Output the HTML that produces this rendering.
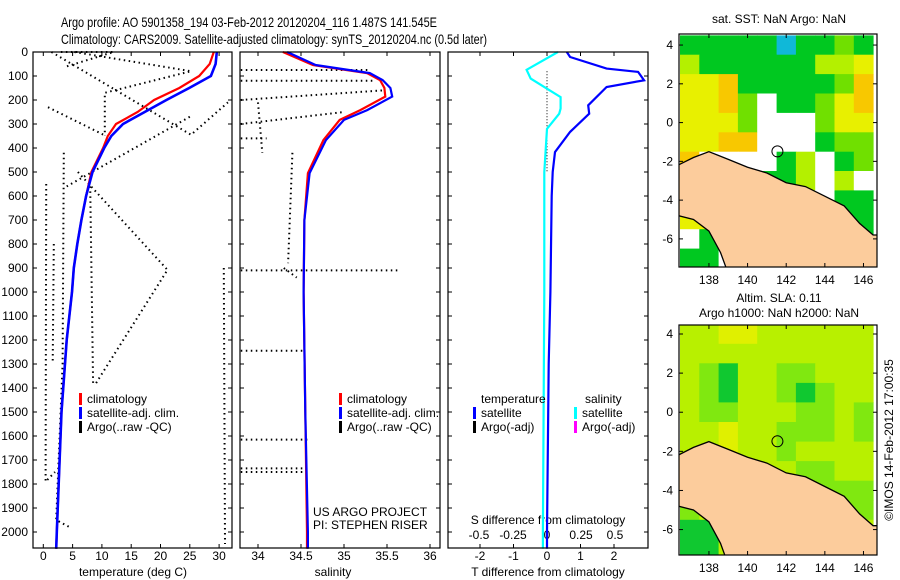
<!DOCTYPE html>
<html><head><meta charset="utf-8"><style>
body{margin:0;background:#fff}
svg{display:block;font-family:"Liberation Sans",sans-serif}
text{fill:#000}
</style></head><body>
<svg id="s" width="900" height="580" viewBox="0 0 900 580" xmlns="http://www.w3.org/2000/svg">
<rect width="900" height="580" fill="#fff"/>
<text x="61" y="27" font-size="14" textLength="376" lengthAdjust="spacingAndGlyphs">Argo profile: AO 5901358_194 03-Feb-2012 20120204_116 1.487S 141.545E</text>
<text x="61" y="44" font-size="14" textLength="426" lengthAdjust="spacingAndGlyphs">Climatology: CARS2009. Satellite-adjusted climatology: synTS_20120204.nc (0.5d later)</text>
<g id="g"></g>
<text transform="translate(893,440) rotate(-90)" font-size="12" text-anchor="middle">©IMOS 14-Feb-2012 17:00:35</text>
</svg>
<script>
// ---- data ----
const depths = [0,50,100,150,200,250,300,350,400,500,600,700,800,900,1000,1200,1500,2000,2070];
const tempClim = [29.1,28.4,26.6,23.2,18.9,16.1,12.4,11.0,10.2,8.2,7.3,6.5,5.8,5.2,4.9,4.0,3.1,2.3,2.2];
const tempSat  = [29.6,29.4,28.6,24.9,21.0,17.3,13.6,11.6,10.4,8.4,7.3,6.5,5.8,5.2,4.9,4.0,3.1,2.3,2.2];
const salDepths = [0,54,88,117,150,186,242,283,367,505,700,1000,1500,2000,2070];
const salClim = [34.29,34.64,35.27,35.42,35.47,35.48,35.19,34.95,34.76,34.58,34.54,34.53,34.55,34.57,34.57];
const salSat  = [34.34,34.67,35.30,35.45,35.54,35.56,35.27,35.00,34.79,34.60,34.54,34.53,34.55,34.58,34.58];
const dTDepths = [0,21,69,83,118,146,222,257,333,417,500,600,1000,1300,2000,2070];
const dTSat = [0.59,0.69,1.78,2.72,2.9,1.78,1.23,1.26,0.69,0.24,0.17,0.14,0.1,0.05,0.0,0.0];
const dSDepths = [0,74,111,153,188,236,257,320,500,1000,2000,2070];
const dSSat = [0.08,-0.15,-0.12,0.0,0.1,0.1,0.09,0.0,-0.02,-0.02,-0.03,-0.03];
const argoT = [
 [[5.3,0],[25.2,80],[10.5,170],[10.5,350]],
 [[1.4,0],[25.2,345],[31.5,210]],
 [[0.8,230],[10.7,350]],
 [[25,270],[4,560]],
 [[5.9,500],[21.2,908],[9,1380]],
 [[8,560],[8.5,1380]],
 [[3.5,420],[3.3,1300],[2.2,1950],[4.5,1980]],
 [[0.5,550],[0.4,1790],[2,1750]],
 [[1.8,800],[1.6,1300]],
 [[30.8,900],[31,2050]],
 [[3,0],[12,0],[4,60]]
];
const argoS = [
 [[33.8,75],[35.3,75]],[[33.8,120],[35.35,120]],[[33.8,200],[35.45,160]],[[33.8,300],[35.0,250]],
 [[33.8,360],[34.1,360]],[[34.0,210],[34.05,420]],[[34.4,420],[34.35,880]],[[34.3,900],[34.45,940]],
 [[33.8,910],[35.65,910]],[[33.8,1245],[34.55,1245]],[[33.8,1615],[34.6,1615]],[[33.8,1735],[34.6,1735]],[[33.8,1750],[34.6,1750]]
];
const lonTicks=[138,140,142,144,146];
const latTicks=[4,2,0,-2,-4,-6];
const sstRows=["GGGGGbGGgG","yGGGGGGyyY","YYOGGGGGgO","YYOgwGGgYO","YYYgwwwgYY","YYOOwwwGgg","OwwwwGywGg","wwwyGGywyw","wwwwwwwwGG","YYwwwwwwGG","wGwwwwwwwG","GGwwwwwwww"];
const slaRows=["yyYYyyyyyy","yyyyyyyyyy","ygGyyggyyy","ygGyygGgyy","yggyyyggyg","yyYyygggyg","yyYyygyyyy","yyyyyyggyy","yyyyyyyggg","gyyyyyyggg","GGyyyyyyyy","GGyyyyyyyy"];
const coast=[[136.4,-2.2],[137.2,-1.8],[138,-1.5],[138.5,-1.7],[139,-1.9],[140,-2.3],[141,-2.6],[142,-3.1],[143,-3.3],[144,-3.8],[145,-4.3],[145.8,-5.2],[146.5,-5.8],[146.8,-5.8],[146.8,-7.8],[139,-7.8],[138.6,-6.7],[138,-5.6],[137.2,-5.0],[136.4,-4.8]];

// ---- drawing ----
const NS="http://www.w3.org/2000/svg";
const G=document.getElementById('g');
function el(tag,attrs,parent){const e=document.createElementNS(NS,tag);for(const k in attrs)e.setAttribute(k,attrs[k]);(parent||G).appendChild(e);return e;}
function txt(x,y,s,size,anchor,name){const t=el('text',{x:x,y:y,'font-size':size,'text-anchor':anchor||'start'});t.textContent=s;

return t;}
const yD=d=>52+d*0.24;
const PT=548;
function panel(x0,x1,name){const r=el('rect',{x:x0,y:52,width:x1-x0,height:PT-52,fill:'none',stroke:'#000','stroke-width':1.2});

}
const xT=t=>43.3+t*5.86, xS=s=>258+(s-34)*86, xdT=v=>547+v*33.5, xdS=v=>547+v*136;
function line(pts,fx,color,w,dash,name){const p=el('polyline',{points:pts.map(q=>fx(q[0]).toFixed(1)+','+yD(q[1]).toFixed(1)).join(' '),fill:'none',stroke:color,'stroke-width':w});
if(dash)p.setAttribute('stroke-dasharray',dash);

}
function zip(a,b){return a.map((v,i)=>[v,b[i]]);}
for(let d=0;d<=2000;d+=100){const y=yD(d);
 txt(28,y+4,String(d),12,'end','depth-tick-label');
 [[33,232],[240,440],[448,648]].forEach(([a,b])=>{el('line',{x1:a,y1:y,x2:a+4,y2:y,stroke:'#000'});el('line',{x1:b-4,y1:y,x2:b,y2:y,stroke:'#000'});});
}
[0,5,10,15,20,25,30].forEach(t=>{txt(xT(t),560,String(t),12,'middle','temp-tick-label');el('line',{x1:xT(t),y1:PT,x2:xT(t),y2:PT-4,stroke:'#000'});el('line',{x1:xT(t),y1:52,x2:xT(t),y2:56,stroke:'#000'});});
txt(133,576,'temperature (deg C)',12,'middle','temp-axis-title');
argoT.forEach(s=>line(s,xT,'#000',2,'1.5 3.5','argo-temp-raw'));
line(zip(tempClim,depths),xT,'#f00',2.2,null,'temp-climatology-line');
line(zip(tempSat,depths),xT,'#00f',2.6,null,'temp-satellite-line');
[34,34.5,35,35.5,36].forEach(s=>{txt(xS(s),560,String(s),12,'middle','salinity-tick-label');el('line',{x1:xS(s),y1:PT,x2:xS(s),y2:PT-4,stroke:'#000'});el('line',{x1:xS(s),y1:52,x2:xS(s),y2:56,stroke:'#000'});});
txt(333,576,'salinity',12,'middle','salinity-axis-title');
argoS.forEach(s=>line(s,xS,'#000',2,'1.5 3.5','argo-salinity-raw'));
line(zip(salClim,salDepths),xS,'#f00',2.2,null,'salinity-climatology-line');
line(zip(salSat,salDepths),xS,'#00f',2.2,null,'salinity-satellite-line');
[-2,-1,0,1,2].forEach(v=>{txt(xdT(v),560,String(v),12,'middle','tdiff-tick-label');el('line',{x1:xdT(v),y1:PT,x2:xdT(v),y2:PT-4,stroke:'#000'});el('line',{x1:xdT(v),y1:52,x2:xdT(v),y2:56,stroke:'#000'});});
[[-0.5,'-0.5'],[-0.25,'-0.25'],[0,'0'],[0.25,'0.25'],[0.5,'0.5']].forEach(([v,l])=>txt(xdS(v),539,l,12,'middle','sdiff-tick-label'));
txt(548,524,'S difference from climatology',12,'middle','sdiff-axis-title');
txt(548,576,'T difference from climatology',12,'middle','tdiff-axis-title');
line([[0,80],[0,500]],xdT,'#000',1,'1 2','zero-reference');
line(zip(dTSat,dTDepths),xdT,'#00f',2.2,null,'tdiff-satellite-line');
line(zip(dSSat,dSDepths),xdS,'#0ff',2.2,null,'sdiff-satellite-line');
panel(33,232,'temperature-panel');panel(240,440,'salinity-panel');panel(448,648,'difference-panel');
function leg(x,y,c,s,name){el('rect',{x:x,y:y-10,width:3,height:12,fill:c});txt(x+8,y,s,12,'start',name);}
leg(79,403,'#f00','climatology','legend-climatology');leg(79,417,'#00f','satellite-adj. clim.','legend-satellite');leg(79,431,'#000','Argo(..raw -QC)','legend-argo');
leg(339,403,'#f00','climatology','legend-climatology-s');leg(339,417,'#00f','satellite-adj. clim.','legend-satellite-s');leg(339,431,'#000','Argo(..raw -QC)','legend-argo-s');
txt(481,403,'temperature',12,'start','legend-temperature-header');txt(585,403,'salinity',12,'start','legend-salinity-header');
leg(473,417,'#00f','satellite','legend-t-satellite');leg(473,431,'#000','Argo(-adj)','legend-t-argo');
leg(574,417,'#0ff','satellite','legend-s-satellite');leg(574,431,'#f0f','Argo(-adj)','legend-s-argo');
txt(313,516,'US ARGO PROJECT',12,'start','project-label');txt(313,529,'PI: STEPHEN RISER',12,'start','pi-label');
const COL={G:'#00c820',g:'#70e000',y:'#b4f000',Y:'#e8f000',O:'#f8c800',b:'#10b8d8',w:'#ffffff'};
const COL2={G:'#10c830',g:'#80e810',y:'#b8f000',Y:'#e0f000',w:'#fff'};
function map(top,bot,latTop,latBot,rows,cols,name){
 const L=679,R=877,lonL=136.45,lonR=146.7;
 const fx=l=>L+(l-lonL)*(R-L)/(lonR-lonL), fy=a=>top+(latTop-a)*(bot-top)/(latTop-latBot);
 const g=el('g',{});
 
 
 const cp='c'+top;const cl=el('clipPath',{id:cp},g);el('rect',{x:L,y:top,width:R-L,height:bot-top},cl);
 const inner=el('g',{'clip-path':'url(#'+cp+')'},g);
 rows.forEach((r,i)=>{[...r].forEach((ch,j)=>{const x0=fx(136.5+j),y0=fy(4.5-i);
  const c=el('rect',{x:x0.toFixed(1),y:y0.toFixed(1),width:(fx(137.5+j)-x0+0.5).toFixed(1),height:(fy(3.5-i)-y0+0.5).toFixed(1),fill:cols[ch]},inner);
  
  });});
 const land=el('polygon',{points:coast.map(p=>fx(p[0]).toFixed(1)+','+fy(p[1]).toFixed(1)).join(' '),fill:'#fccc9c',stroke:'#000','stroke-width':1.3},inner);
 
 
 const c=el('circle',{cx:fx(141.545),cy:fy(-1.487),r:5.5,fill:'none',stroke:'#000','stroke-width':1},g);
 
 
 el('rect',{x:L,y:top,width:R-L,height:bot-top,fill:'none',stroke:'#000','stroke-width':1.2},g);
 lonTicks.forEach(l=>{el('line',{x1:fx(l),y1:top,x2:fx(l),y2:top+4,stroke:'#000'},g);el('line',{x1:fx(l),y1:bot,x2:fx(l),y2:bot-4,stroke:'#000'},g);txt(fx(l),bot+17,String(l),12,'middle','lon-tick-label');});
 latTicks.forEach(a=>{el('line',{x1:L,y1:fy(a),x2:L+4,y2:fy(a),stroke:'#000'},g);el('line',{x1:R-4,y1:fy(a),x2:R,y2:fy(a),stroke:'#000'},g);txt(673,fy(a)+4,String(a),12,'end','lat-tick-label');});
}
map(34,267,4.57,-7.45,sstRows,COL,'sst-map');
map(325,555,4.46,-7.3,slaRows,COL2,'sla-map');
txt(779,23,'sat. SST: NaN Argo: NaN',12,'middle','sst-map-title');
txt(779,302,'Altim. SLA: 0.11',12,'middle','sla-map-title');
txt(779,317,'Argo h1000: NaN h2000: NaN',12,'middle','sla-map-subtitle');
</script>
</body></html>
